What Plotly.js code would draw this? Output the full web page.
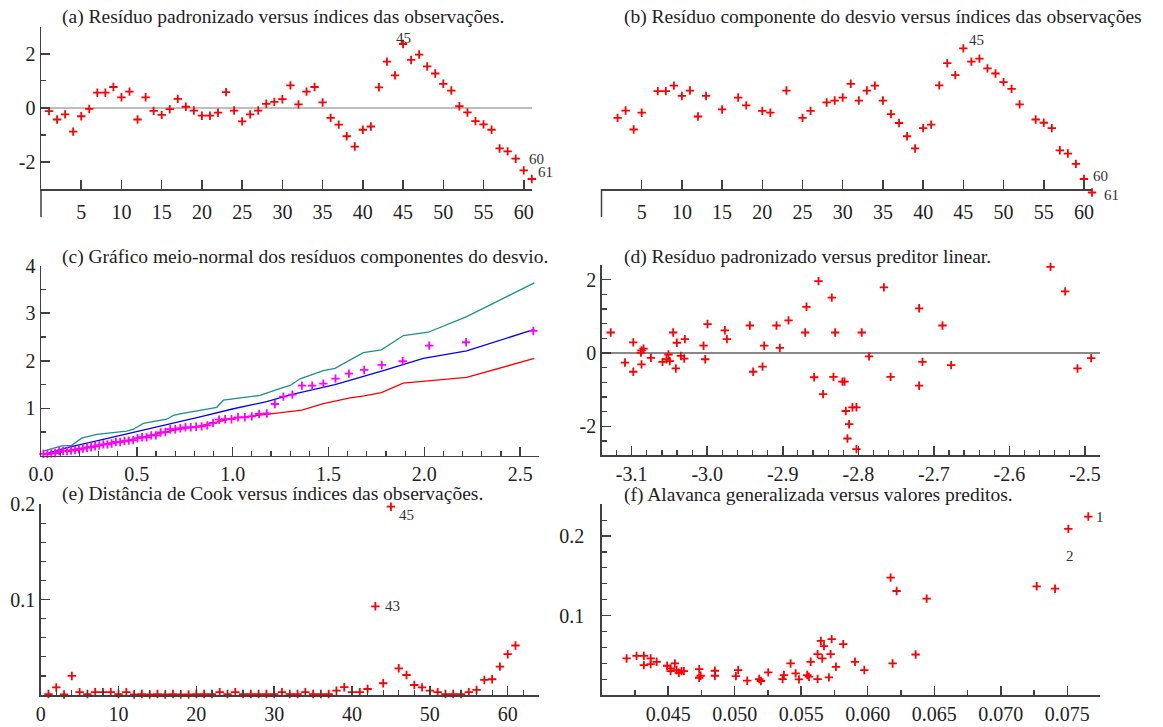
<!DOCTYPE html>
<html><head><meta charset="utf-8">
<script src="https://cdn.plot.ly/plotly-3.0.1.min.js"></script>
<style>
body{margin:0;background:#fff}#g{width:1163px;height:727px}
#g svg text{font-family:"Liberation Serif","Times New Roman","DejaVu Serif",serif !important;}
</style>
</head><body><div id="g"></div>
<script>
// ---------- data ----------
const obsIndex = [1,2,3,4,5,6,7,8,9,10,11,12,13,14,15,16,17,18,19,20,21,22,23,24,25,26,27,28,29,30,31,32,33,34,35,36,37,38,39,40,41,42,43,44,45,46,47,48,49,50,51,52,53,54,55,56,57,58,59,60,61];
// (a) standardized residuals
const resPad = [-0.12,-0.43,-0.24,-0.88,-0.31,-0.04,0.56,0.56,0.77,0.39,0.60,-0.43,0.39,-0.11,-0.26,-0.05,0.33,0.04,-0.10,-0.29,-0.29,-0.18,0.58,-0.10,-0.50,-0.24,-0.10,0.15,0.22,0.32,0.83,0.13,0.60,0.77,0.20,-0.37,-0.62,-1.05,-1.43,-0.81,-0.69,0.76,1.71,1.20,2.36,1.77,1.97,1.53,1.27,0.89,0.64,0.06,-0.17,-0.49,-0.61,-0.81,-1.50,-1.61,-1.88,-2.31,-2.63];
// (b) deviance component residuals
const resDev = [null,-0.37,-0.10,-0.80,-0.18,null,0.62,0.62,0.82,0.44,0.64,-0.32,0.44,null,-0.06,null,0.38,0.09,null,-0.11,-0.18,null,0.64,null,-0.37,-0.11,null,0.20,0.27,0.38,0.89,0.27,0.64,0.82,0.27,-0.23,-0.56,-1.05,-1.50,-0.75,-0.62,0.83,1.65,1.21,2.20,1.71,1.82,1.46,1.27,0.95,0.70,0.13,null,-0.43,-0.55,-0.75,-1.57,-1.69,-2.07,-2.63,-3.13];
// (c) half-normal plot
const hnQuantile = [0.0128,0.0333,0.0537,0.0742,0.0948,0.1154,0.1360,0.1567,0.1774,0.1982,0.2192,0.2402,0.2613,0.2825,0.3039,0.3254,0.3470,0.3688,0.3908,0.4130,0.4354,0.4580,0.4809,0.5040,0.5273,0.5510,0.5752,0.5993,0.6242,0.6490,0.6745,0.7004,0.7270,0.7538,0.7814,0.8094,0.8382,0.8677,0.8977,0.9290,0.9609,0.9938,1.0280,1.0633,1.0998,1.1383,1.1784,1.2204,1.2646,1.3115,1.3615,1.4151,1.4732,1.5366,1.6067,1.6862,1.7779,1.8873,2.0257,2.2180,2.5690];
const hnAbsRes = [0.04,0.04,0.05,0.06,0.10,0.10,0.10,0.11,0.12,0.13,0.15,0.17,0.18,0.20,0.22,0.24,0.24,0.26,0.29,0.29,0.31,0.32,0.33,0.37,0.39,0.39,0.43,0.43,0.49,0.50,0.56,0.56,0.58,0.60,0.60,0.61,0.62,0.64,0.69,0.76,0.77,0.77,0.81,0.81,0.83,0.88,0.89,1.09,1.245,1.287,1.476,1.476,1.518,1.624,1.729,1.806,1.912,1.989,2.318,2.389,2.627];
const envUpperX = [0.012,0.108,0.160,0.212,0.291,0.343,0.447,0.482,0.534,0.656,0.691,0.726,0.830,0.917,0.952,1.039,1.143,1.230,1.300,1.352,1.473,1.534,1.682,1.776,1.891,2.021,2.221,2.574];
const envUpperY = [0.10,0.21,0.22,0.37,0.45,0.47,0.52,0.56,0.68,0.77,0.85,0.88,0.96,1.02,1.17,1.21,1.27,1.39,1.48,1.62,1.79,1.84,2.17,2.23,2.53,2.60,2.93,3.64];
const envMidX = [0.012,0.135,0.308,0.482,0.656,0.830,1.004,1.178,1.300,1.352,1.534,1.786,1.995,2.221,2.574];
const envMidY = [0.03,0.17,0.33,0.49,0.66,0.82,0.99,1.14,1.28,1.33,1.50,1.79,2.05,2.21,2.66];
const envLowerX = [0.012,0.096,0.135,0.308,0.482,0.656,0.830,1.004,1.178,1.361,1.473,1.613,1.686,1.776,1.890,2.221,2.574];
const envLowerY = [0.02,0.06,0.11,0.23,0.35,0.51,0.63,0.79,0.87,0.96,1.10,1.22,1.26,1.33,1.53,1.65,2.05];
// (d) standardized residual vs linear predictor
const linPred = [-3.1278,-3.1089,-3.0979,-3.0979,-3.0878,-3.0870,-3.0843,-3.0870,-3.0746,-3.0592,-3.0539,-3.0513,-3.0495,-3.0451,-3.0416,-3.0402,-3.0349,-3.0305,-3.0296,-3.0049,-3.0027,-2.9996,-2.9767,-2.9740,-2.9436,-2.9392,-2.9268,-2.9246,-2.9083,-2.9039,-2.8924,-2.8703,-2.8686,-2.8585,-2.8527,-2.8466,-2.8351,-2.8329,-2.8307,-2.8210,-2.8183,-2.8166,-2.8122,-2.8144,-2.8078,-2.8025,-2.8025,-2.7955,-2.7858,-2.7661,-2.7573,-2.7195,-2.7195,-2.7151,-2.6886,-2.6771,-2.5456,-2.5262,-2.5099,-2.4918];
const resPadD = [0.56,-0.26,0.29,-0.51,0.01,0.07,0.12,-0.31,-0.13,-0.24,-0.17,-0.04,-0.22,0.56,-0.42,0.28,-0.08,-0.15,0.38,0.20,-0.17,0.79,0.62,0.38,0.75,-0.51,-0.37,0.20,0.75,0.14,0.89,0.56,1.26,-0.66,1.96,-1.12,1.51,-0.65,0.56,-0.78,-0.78,-1.58,-1.94,-2.33,-1.48,-1.48,-2.62,0.56,-0.09,1.79,-0.65,1.22,-0.89,-0.24,0.75,-0.33,2.35,1.68,-0.42,-0.14];
// (e) Cook's distance
const cookDist = [0.001,0.008,0.0005,0.020,0.003,0.001,0.003,0.003,0.003,0.001,0.003,0.0005,0.001,0.0005,0.001,0.0005,0.001,0.0005,0.0005,0.001,0.001,0.001,0.003,0.001,0.003,0.001,0.001,0.001,0.001,0.001,0.003,0.001,0.001,0.003,0.001,0.001,0.001,0.0046,0.0082,0.003,0.003,0.0063,0.093,0.0123,0.1975,0.028,0.021,0.0105,0.008,0.0046,0.003,0.001,0.001,0.001,0.003,0.0053,0.0158,0.0165,0.0298,0.0428,0.0519];
// (f) generalized leverage vs fitted values
const fitted = [0.04187,0.04262,0.04317,0.04317,0.04368,0.04368,0.04413,0.04492,0.04518,0.04518,0.0455,0.04563,0.0458,0.0460,0.04618,0.04733,0.04733,0.04744,0.04851,0.04851,0.05009,0.05026,0.05094,0.05184,0.05197,0.05252,0.0536,0.0537,0.0542,0.05458,0.05483,0.05545,0.05558,0.05571,0.05623,0.05623,0.05648,0.05658,0.05671,0.05708,0.05721,0.05729,0.05761,0.05816,0.05904,0.05974,0.06172,0.06217,0.06187,0.0636,0.06443,0.0727,0.07408,0.07508,0.07658];
const leverage = [0.046,0.0493,0.0493,0.0376,0.046,0.0389,0.0418,0.0368,0.0335,0.0301,0.0397,0.0314,0.028,0.0301,0.0301,0.0326,0.0217,0.0242,0.0305,0.0242,0.0238,0.0314,0.018,0.0201,0.0176,0.0285,0.0201,0.0251,0.0397,0.0272,0.0197,0.0251,0.023,0.0418,0.0201,0.0514,0.0681,0.046,0.0615,0.0222,0.0514,0.0703,0.0355,0.064,0.0418,0.0314,0.1477,0.1309,0.0397,0.0510,0.1213,0.1368,0.1338,0.2091,0.2246];

const titles = [
  "(a) Resíduo padronizado versus índices das observações.",
  "(b) Resíduo componente do desvio versus índices das observações",
  "(c) Gráfico meio-normal dos resíduos componentes do desvio.",
  "(d) Resíduo padronizado versus preditor linear.",
  "(e) Distância de Cook versus índices das observações.",
  "(f) Alavanca generalizada versus valores preditos."
];

// ---------- styling ----------
const W = 1163, H = 727;
const FONT = 'Liberation Serif';
const AX = '#404040';
function ax(o){
  return Object.assign({showline:true, linecolor:AX, linewidth:1.5, ticks:'inside', ticklen:9, tickwidth:1.5,
    tickcolor:AX, showgrid:false, zeroline:false, fixedrange:true,
    tickfont:{family:FONT, size:20, color:'#222'}}, o);
}
function minor(d, t0){ return {ticks:'inside', ticklen:5, tickwidth:1.2, tickcolor:AX, dtick:d, tick0:t0||0, showgrid:false}; }
const crossRed = {symbol:'cross-thin', size:6, color:'#ff0000', line:{color:'#ff0000', width:1.8}};
function pts(x, y, xa, ya, mk){ return {type:'scatter', mode:'markers', x:x, y:y, xaxis:xa, yaxis:ya, marker:mk||crossRed, cliponaxis:false, hoverinfo:'skip'}; }
function line(x, y, xa, ya, c){ return {type:'scatter', mode:'lines', x:x, y:y, xaxis:xa, yaxis:ya, line:{color:c, width:1.3}, hoverinfo:'skip'}; }

const data = [
  pts(obsIndex, resPad, 'x', 'y'),
  pts(obsIndex, resDev, 'x2', 'y7'),
  line(envUpperX, envUpperY, 'x3', 'y3', '#1a9090'),
  line(envMidX, envMidY, 'x3', 'y3', '#0000ff'),
  line(envLowerX, envLowerY, 'x3', 'y3', '#ff0000'),
  pts(hnQuantile, hnAbsRes, 'x3', 'y3', {symbol:'cross-thin', size:6, color:'#ff00ff', line:{color:'#ff00ff', width:1.8}}),
  pts(linPred, resPadD, 'x4', 'y4'),
  pts(obsIndex, cookDist, 'x5', 'y5'),
  pts(fitted, leverage, 'x6', 'y6')
];

const px = v => v / W, py = v => 1 - v / H;
const negTicks = {tickvals:[-2,0,2], ticktext:['-2','0','2']};
const idxTicks = {tickvals:[5,10,15,20,25,30,35,40,45,50,55,60]};
const unitB = (189 - 26.7) / 6;

const layout = {
  width:W, height:H, margin:{l:0,r:0,t:0,b:0}, paper_bgcolor:'#fff', plot_bgcolor:'#fff', showlegend:false,
  font:{family:FONT},
  xaxis: ax(Object.assign({domain:[px(41), px(531.8)], range:[0,61], anchor:'y', ticklabelstandoff:4}, idxTicks)),
  yaxis: ax(Object.assign({domain:[py(189), py(26.7)], range:[-3,3], anchor:'x', minor:minor(1),
          zeroline:true, zerolinecolor:'#bdbdbd', zerolinewidth:2}, negTicks)),
  xaxis2: ax(Object.assign({domain:[px(601.5), px(1092)], range:[0,61], anchor:'y2', ticklabelstandoff:4}, idxTicks)),
  yaxis2: ax(Object.assign({domain:[py(189), py(26.7)], range:[-3,3], anchor:'x2', minor:minor(1),
          zeroline:true, zerolinecolor:'#bdbdbd', zerolinewidth:2}, negTicks)),
  // invisible helper axis with the same scale as yaxis2, extended downward so obs. 61 (below -3) is drawn
  yaxis7: {domain:[py(189 + 0.5*unitB), py(26.7)], range:[-3.5,3], anchor:'x2', visible:false, fixedrange:true},
  xaxis3: ax({domain:[px(41), px(539.3)], range:[0,2.6], anchor:'y3', tickvals:[0,0.5,1,1.5,2,2.5],
          ticktext:['0.0','0.5','1.0','1.5','2.0','2.5'], minor:minor(0.1)}),
  yaxis3: ax({domain:[py(455.8), py(265.7)], range:[0,4], anchor:'x3', tickvals:[1,2,3,4], minor:minor(0.5)}),
  xaxis4: ax({domain:[px(601.7), px(1100)], range:[-3.1397,-2.4801], anchor:'y4',
          tickvals:[-3.1,-3.0,-2.9,-2.8,-2.7,-2.6,-2.5], ticktext:['-3.1','-3.0','-2.9','-2.8','-2.7','-2.6','-2.5'],
          minor:minor(0.02, -3.1)}),
  yaxis4: ax(Object.assign({domain:[py(455), py(265)], range:[-2.78,2.40], anchor:'x4', minor:minor(0.4),
          zeroline:true, zerolinecolor:'#888888', zerolinewidth:1.5}, negTicks)),
  xaxis5: ax({domain:[px(40.7), px(539.3)], range:[0,64.06], anchor:'y5', tickvals:[0,10,20,30,40,50,60], minor:minor(2)}),
  yaxis5: ax({domain:[py(695), py(504.3)], range:[0,0.2], anchor:'x5', tickvals:[0.1,0.2], ticktext:['0.1','0.2'], minor:minor(0.02)}),
  xaxis6: ax({domain:[px(601.7), px(1100)], range:[0.0400,0.07746], anchor:'y6',
          tickvals:[0.045,0.05,0.055,0.06,0.065,0.07,0.075], ticktext:['0.045','0.050','0.055','0.060','0.065','0.070','0.075'],
          minor:minor(0.0025, 0.04)}),
  yaxis6: ax({domain:[py(695), py(504.3)], range:[0,0.24], anchor:'x6', tickvals:[0.1,0.2], ticktext:['0.1','0.2'],
          minor:minor(0.02), ticklabelstandoff:12}),
  shapes: [
    {type:'line', xref:'paper', yref:'paper', x0:px(41), x1:px(41), y0:py(189), y1:py(217), line:{color:AX, width:1.5}},
    {type:'line', xref:'paper', yref:'paper', x0:px(601.5), x1:px(601.5), y0:py(189), y1:py(217), line:{color:AX, width:1.5}}
  ],
  annotations: []
};

const titlePos = [[60,16.7],[621.7,16.7],[60,256.7],[621.7,256.7],[60,493.5],[621.7,494.5]];
titles.forEach((t,i) => layout.annotations.push({text:t, xref:'paper', yref:'paper', x:px(titlePos[i][0]), y:py(titlePos[i][1]),
  xanchor:'left', yanchor:'middle', showarrow:false, font:{family:FONT, size:19.5, color:'#222'}}));

function lab(t, x, y, xr, yr, xs, ys, xa){
  layout.annotations.push({text:t, x:x, y:y, xref:xr, yref:yr, xshift:xs, yshift:ys, xanchor:xa||'left', yanchor:'middle',
    showarrow:false, font:{family:FONT, size:15, color:'#333'}});
}
lab('45', 45, resPad[44], 'x', 'y', 0, 6, 'center');
lab('60', 60, resPad[59], 'x', 'y', 3, 11);
lab('61', 61, resPad[60], 'x', 'y', 4, 7);
lab('45', 45, resDev[44], 'x2', 'y7', 4, 8);
lab('60', 60, resDev[59], 'x2', 'y7', 7, 3);
lab('61', 61, resDev[60], 'x2', 'y7', 10, -2);
lab('45', 45, cookDist[44], 'x5', 'y5', 6, -8);
lab('43', 43, cookDist[42], 'x5', 'y5', 8, 0);
lab('1', fitted[54], leverage[54], 'x6', 'y6', 6, 0);
lab('2', 0.0752, 0.1744, 'x6', 'y6', 0, 0, 'center');

Plotly.newPlot('g', data, layout, {staticPlot:true});
</script>
</body></html>
